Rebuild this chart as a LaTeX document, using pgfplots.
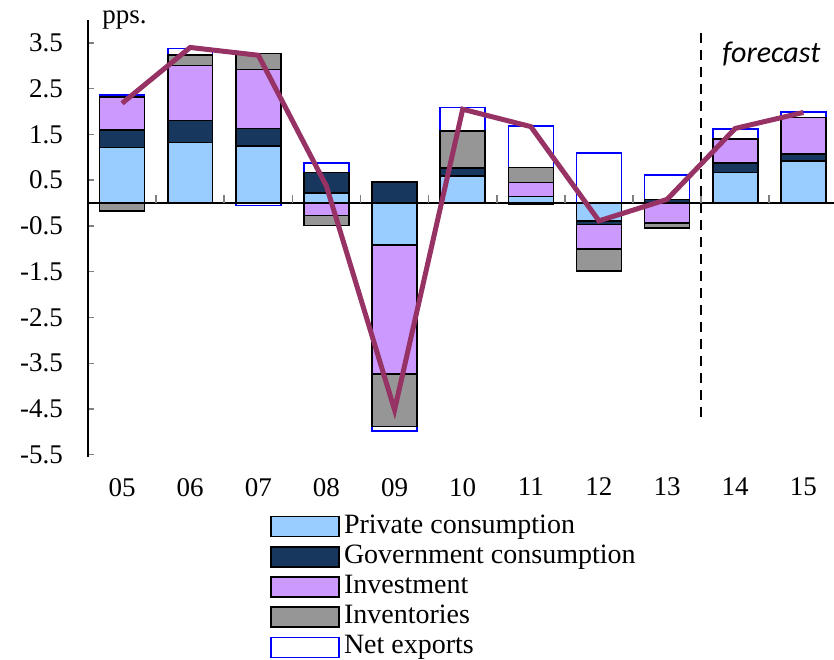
\documentclass[border=0pt]{standalone}
\usepackage{pgfplots}
\usepackage{pgfplotstable}
\pgfplotsset{compat=1.18}
\usepackage{fontspec}
\setmainfont{Liberation Serif}
\newfontfamily\fcfont{Carlito}

\definecolor{privc}{RGB}{153,204,255}
\definecolor{govc}{RGB}{23,55,94}
\definecolor{invc}{RGB}{204,153,255}
\definecolor{stockc}{RGB}{150,150,150}
\definecolor{nxc}{RGB}{0,0,255}
\definecolor{gdpc}{RGB}{150,50,100}

% cumulative tops of the stacks (positive and negative parts kept apart)
% P = private, G = + government, I = + investment, S = + inventories, N = + net exports
\pgfplotstableread{
x P    G    I    S    N
0 1.21 1.59 2.32 2.32 2.36
1 1.32 1.80 3.01 3.23 3.38
2 1.25 1.63 2.92 3.27 3.27
3 0.22 0.67 0.67 0.67 0.88
4 0.00 0.46 0.46 0.46 0.46
5 0.59 0.77 0.77 1.57 2.09
6 0.14 0.14 0.45 0.78 1.69
7 0.00 0.00 0.00 0.00 1.10
8 0.00 0.08 0.08 0.08 0.61
9 0.67 0.87 1.40 1.40 1.62
10 0.92 1.07 1.87 1.87 1.99
}\pos

\pgfplotstableread{
x P     G     I     S     N
0 0.00  0.00  0.00  -0.18 -0.18
1 0.00  0.00  0.00  0.00  0.00
2 0.00  0.00  0.00  0.00  -0.05
3 0.00  0.00  -0.27 -0.49 -0.49
4 -0.92 -0.92 -3.73 -4.88 -4.98
5 0.00  0.00  0.00  0.00  0.00
6 0.00  -0.03 -0.03 -0.03 -0.03
7 -0.39 -0.47 -1.00 -1.49 -1.49
8 0.00  0.00  -0.43 -0.54 -0.54
9 0.00  0.00  0.00  0.00  0.00
10 0.00 0.00  0.00  0.00  0.00
}\neg

\pgfplotsset{
  pc/.style={fill=privc, draw=black, line width=0.8pt},
  gc/.style={fill=govc, draw=black, line width=0.8pt},
  ic/.style={fill=invc, draw=black, line width=0.8pt},
  sc/.style={fill=stockc, draw=black, line width=0.8pt},
  nc/.style={fill=white, draw=nxc, line width=0.8pt},
}

\begin{document}
\begin{tikzpicture}
\begin{axis}[
  name=main,
  scale only axis,
  width=373pt, height=218.5pt,
  xmin=-0.5, xmax=10.45,
  ymin=-5.55, ymax=4.0,
  axis lines*=left,
  x axis line style={draw=none},
  y axis line style={line width=0.7pt},
  xtick={0,...,10},
  xticklabels={05,06,07,08,09,10,11,12,13,14,15},
  major x tick style={draw=none},
  xticklabel style={yshift=-4pt},
  ytick={-5.5,-4.5,...,3.5},
  tick align=inside,
  major tick length=3pt,
  major y tick style={line width=0.7pt},
  yticklabel style={/pgf/number format/fixed, /pgf/number format/fixed zerofill,
    /pgf/number format/precision=1, xshift=-9pt},
  /pgf/number format/assume math mode=true,
  tick label style={font=\fontsize{13.5}{15}\selectfont},
  ybar, bar width=0.66, bar shift=0pt,
  clip=false,
  reverse legend,
  legend image code/.code={\draw[#1] (0pt,-5pt) rectangle (34pt,5pt);},
  legend style={at={(0.244,-0.125)}, anchor=north west, draw=none, fill=none,
    font=\fontsize{14}{16}\selectfont, cells={anchor=west},
    nodes={inner ysep=0.5pt, inner xsep=2pt, text height=10pt, text depth=3.5pt},
    row sep=0.6pt, inner sep=0pt},
]
% positive parts, drawn from the outermost layer inwards
\addplot[nc] table[x=x, y=N] {\pos};
\addlegendentry{Net exports}
\addplot[sc] table[x=x, y=S] {\pos};
\addlegendentry{Inventories}
\addplot[ic] table[x=x, y=I] {\pos};
\addlegendentry{Investment}
\addplot[gc] table[x=x, y=G] {\pos};
\addlegendentry{Government consumption}
\addplot[pc] table[x=x, y=P] {\pos};
\addlegendentry{Private consumption}
% negative parts
\addplot[nc, forget plot] table[x=x, y=N] {\neg};
\addplot[sc, forget plot] table[x=x, y=S] {\neg};
\addplot[ic, forget plot] table[x=x, y=I] {\neg};
\addplot[gc, forget plot] table[x=x, y=G] {\neg};
\addplot[pc, forget plot] table[x=x, y=P] {\neg};

\draw[line width=0.6pt] (axis cs:-0.5,0) -- (axis cs:10.45,0);
\pgfplotsinvokeforeach{0.5,1.5,...,9.5}{
  \draw[gray, line width=0.8pt] (axis cs:#1,0) -- ([yshift=4pt]axis cs:#1,0);
}
\draw[dashed, dash pattern=on 5pt off 3.5pt, line width=0.7pt]
  (axis cs:8.5,3.72) -- (axis cs:8.5,-4.69);

% GDP growth
\addplot[sharp plot, color=gdpc, line width=2.5pt, mark=none, forget plot]
  coordinates {(0,2.18) (1,3.40) (2,3.23) (3,0.37) (4,-4.52) (5,2.05)
               (6,1.67) (7,-0.39) (8,0.08) (9,1.63) (10,1.98)};

\node[font=\fcfont\fontsize{15}{17}\selectfont\itshape] at (axis cs:9.53,3.26) {forecast};
\node[anchor=west, font=\fontsize{13.5}{15}\selectfont, inner sep=0pt]
  at ([xshift=7pt]rel axis cs:0,1) {pps.};
\end{axis}
\pgfresetboundingbox
\path (main.south west) ++(-44pt,-101pt) rectangle ++(417pt,329.5pt);
\end{tikzpicture}
\end{document}
